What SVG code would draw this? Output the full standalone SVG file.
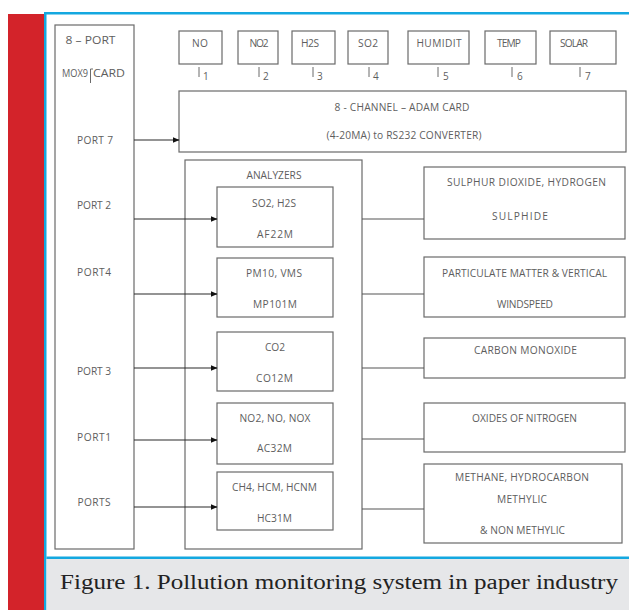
<svg xmlns="http://www.w3.org/2000/svg" width="629" height="610" viewBox="0 0 629 610">
  <style>
    .box { fill: #ffffff; stroke: #6a6a6a; stroke-width: 1.2; }
    .t { font-family: "Open Sans", "Liberation Sans", sans-serif; font-size: 10.2px; fill: #5e5e5e; text-anchor: middle; }
    .s { font-family: "Open Sans", "Liberation Sans", sans-serif; font-size: 10.2px; fill: #5e5e5e; }
    .n { font-family: "Open Sans", "Liberation Sans", sans-serif; font-size: 10px; fill: #5e5e5e; }
    .tick { stroke: #6a6a6a; stroke-width: 1; fill: none; }
    .wire { stroke: #2a2a2a; stroke-width: 1.2; fill: none; }
    .link { stroke: #555555; stroke-width: 1.2; fill: none; }
    .cap { font-family: "Liberation Serif", "DejaVu Serif", serif; font-size: 20px; fill: #222222; }
  </style>
  <defs>
    <marker id="arr" markerWidth="7" markerHeight="6" refX="6.5" refY="3" orient="auto" markerUnits="userSpaceOnUse">
      <path d="M0,0 L7,3 L0,6 z" fill="#111111"/>
    </marker>
  </defs>

  <!-- page frame -->
  <rect x="0" y="0" width="629" height="610" fill="#ffffff"/>
  <rect x="8" y="14" width="36" height="596" fill="#d3232a"/>
  <rect x="44" y="12" width="585" height="2.5" fill="#14a8e0"/>
  <rect x="44" y="12" width="2.5" height="598" fill="#14a8e0"/>
  <rect x="46.5" y="559" width="582.5" height="51" fill="#e6e7e9"/>
  <rect x="46.5" y="556.5" width="582.5" height="2.5" fill="#14a8e0"/>
  <text class="cap" x="60" y="589" textLength="558" lengthAdjust="spacingAndGlyphs">Figure 1. Pollution monitoring system in paper industry</text>

  <!-- port card -->
  <g id="port-card">
    <rect class="box" x="55" y="25" width="79" height="524"/>
    <text class="t" x="90.5" y="44" textLength="50" lengthAdjust="spacingAndGlyphs">8 – PORT</text>
    <text class="s" x="62" y="77" textLength="26" lengthAdjust="spacingAndGlyphs">MOX9</text>
    <text class="s" x="93" y="77" textLength="32" lengthAdjust="spacingAndGlyphs">CARD</text>
    <path class="tick" d="M90.5,83 V69 H93"/>
    <text class="t" x="95" y="144" textLength="36">PORT 7</text>
    <text class="t" x="94" y="209" textLength="34">PORT 2</text>
    <text class="t" x="94" y="276" textLength="34">PORT4</text>
    <text class="t" x="94" y="375" textLength="34">PORT 3</text>
    <text class="t" x="94" y="441" textLength="34">PORT1</text>
    <text class="t" x="94" y="506" textLength="33">PORTS</text>
  </g>

  <!-- sensors -->
  <g id="sensor-no">
    <rect class="box" x="179" y="31" width="43" height="33"/>
    <text class="t" x="200" y="47" textLength="16">NO</text>
    <line class="tick" x1="199" y1="67" x2="199" y2="77"/>
    <text class="n" x="203" y="80">1</text>
  </g>
  <g id="sensor-no2">
    <rect class="box" x="238" y="31" width="40" height="33"/>
    <text class="t" x="259" y="47" textLength="19">NO2</text>
    <line class="tick" x1="259" y1="67" x2="259" y2="77"/>
    <text class="n" x="263" y="80">2</text>
  </g>
  <g id="sensor-h2s">
    <rect class="box" x="292" y="31" width="43" height="33"/>
    <text class="t" x="310" y="47" textLength="18">H2S</text>
    <line class="tick" x1="313" y1="67" x2="313" y2="77"/>
    <text class="n" x="317" y="80">3</text>
  </g>
  <g id="sensor-so2">
    <rect class="box" x="348" y="31" width="40" height="33"/>
    <text class="t" x="368" y="47" textLength="20">SO2</text>
    <line class="tick" x1="369" y1="67" x2="369" y2="77"/>
    <text class="n" x="373" y="80">4</text>
  </g>
  <g id="sensor-humidity">
    <rect class="box" x="408" y="31" width="61" height="33"/>
    <text class="t" x="439" y="47" textLength="45">HUMIDIT</text>
    <line class="tick" x1="438" y1="67" x2="438" y2="77"/>
    <text class="n" x="443" y="80">5</text>
  </g>
  <g id="sensor-temp">
    <rect class="box" x="485" y="31" width="51" height="33"/>
    <text class="t" x="509" y="47" textLength="24">TEMP</text>
    <line class="tick" x1="512" y1="67" x2="512" y2="77"/>
    <text class="n" x="517" y="80">6</text>
  </g>
  <g id="sensor-solar">
    <rect class="box" x="550" y="31" width="66" height="33"/>
    <text class="t" x="574" y="47" textLength="28">SOLAR</text>
    <line class="tick" x1="580" y1="67" x2="580" y2="77"/>
    <text class="n" x="585" y="80">7</text>
  </g>

  <!-- converter card -->
  <g id="adam-card">
    <rect class="box" x="179" y="91" width="447" height="61"/>
    <text class="t" x="402" y="111" textLength="135">8 - CHANNEL – ADAM  CARD</text>
    <text class="t" x="404" y="139" textLength="155">(4-20MA) to RS232 CONVERTER)</text>
  </g>

  <!-- analyzers -->
  <g id="analyzers">
    <rect class="box" x="185" y="160" width="177" height="389"/>
    <text class="t" x="274" y="179" textLength="55">ANALYZERS</text>
  </g>
  <g id="af22m">
    <rect class="box" x="217" y="187" width="116" height="60"/>
    <text class="t" x="274" y="207" textLength="44">SO2, H2S</text>
    <text class="t" x="275" y="238" textLength="36">AF22M</text>
  </g>
  <g id="mp101m">
    <rect class="box" x="217" y="258" width="116" height="59"/>
    <text class="t" x="274" y="277" textLength="56">PM10, VMS</text>
    <text class="t" x="275" y="308" textLength="44">MP101M</text>
  </g>
  <g id="co12m">
    <rect class="box" x="217" y="332" width="116" height="59"/>
    <text class="t" x="275" y="351" textLength="20">CO2</text>
    <text class="t" x="274.5" y="382" textLength="37">CO12M</text>
  </g>
  <g id="ac32m">
    <rect class="box" x="217" y="403" width="116" height="61"/>
    <text class="t" x="275" y="422" textLength="71">NO2, NO, NOX</text>
    <text class="t" x="274.5" y="452" textLength="35">AC32M</text>
  </g>
  <g id="hc31m">
    <rect class="box" x="217" y="472" width="116" height="58"/>
    <text class="t" x="274.5" y="491" textLength="85">CH4, HCM, HCNM</text>
    <text class="t" x="274.5" y="522" textLength="35">HC31M</text>
  </g>

  <!-- measured quantities -->
  <g id="out-sulphur">
    <rect class="box" x="424" y="167" width="201" height="72"/>
    <text class="t" x="526.5" y="186" textLength="159">SULPHUR DIOXIDE, HYDROGEN</text>
    <text class="t" x="520" y="220" textLength="56">SULPHIDE</text>
  </g>
  <g id="out-particulate">
    <rect class="box" x="424" y="257" width="201" height="60"/>
    <text class="t" x="524.5" y="277" textLength="165">PARTICULATE MATTER &amp; VERTICAL</text>
    <text class="t" x="525" y="308" textLength="56">WINDSPEED</text>
  </g>
  <g id="out-co">
    <rect class="box" x="424" y="338" width="201" height="40"/>
    <text class="t" x="525.5" y="354" textLength="103">CARBON MONOXIDE</text>
  </g>
  <g id="out-nox">
    <rect class="box" x="424" y="403" width="201" height="49"/>
    <text class="t" x="524.5" y="422" textLength="105">OXIDES OF NITROGEN</text>
  </g>
  <g id="out-methane">
    <rect class="box" x="424" y="464" width="198" height="79"/>
    <text class="t" x="522" y="481" textLength="134">METHANE,  HYDROCARBON</text>
    <text class="t" x="522" y="503" textLength="50">METHYLIC</text>
    <text class="t" x="522.5" y="534" textLength="85">&amp; NON METHYLIC</text>
  </g>

  <!-- connectors -->
  <g id="connectors">
    <line class="wire" x1="134" y1="140" x2="179" y2="140" marker-end="url(#arr)"/>
    <line class="wire" x1="134" y1="219" x2="217" y2="219" marker-end="url(#arr)"/>
    <line class="wire" x1="134" y1="294" x2="217" y2="294" marker-end="url(#arr)"/>
    <line class="wire" x1="134" y1="368" x2="217" y2="368" marker-end="url(#arr)"/>
    <line class="wire" x1="134" y1="440" x2="217" y2="440" marker-end="url(#arr)"/>
    <line class="wire" x1="134" y1="507" x2="217" y2="507" marker-end="url(#arr)"/>
    <line class="link" x1="362" y1="219" x2="424" y2="219"/>
    <line class="link" x1="362" y1="294" x2="424" y2="294"/>
    <line class="link" x1="362" y1="368" x2="424" y2="368"/>
    <line class="link" x1="362" y1="439" x2="424" y2="439"/>
    <line class="link" x1="362" y1="509" x2="424" y2="509"/>
  </g>
</svg>
